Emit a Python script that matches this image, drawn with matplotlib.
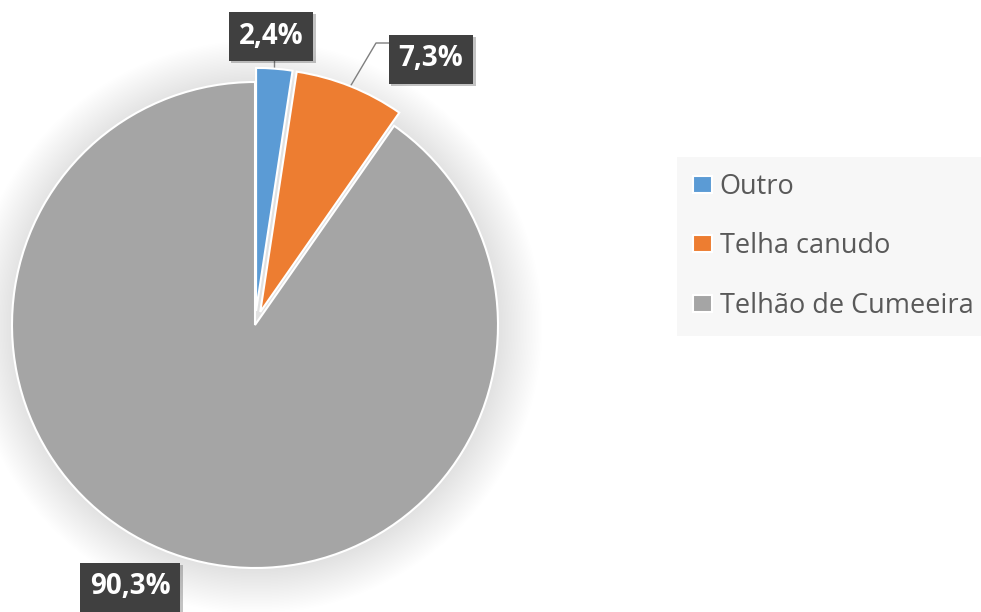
import numpy as np
import matplotlib
matplotlib.use("Agg")
import matplotlib.pyplot as plt
from matplotlib.patches import Circle
import matplotlib.patheffects as pe

plt.rcParams['font.family'] = ['Open Sans', 'DejaVu Sans']

categories = ["Outro", "Telha canudo", "Telhão de Cumeeira"]
values = [2.4, 7.3, 90.3]
colors = ["#5B9BD5", "#ED7D31", "#A5A5A5"]
explode = [0.058, 0.058, 0]

W, H = 981, 612
cx, cy, R = 255, 287, 243

fig = plt.figure(figsize=(W / 100, H / 100), dpi=100)
ax = fig.add_axes([0, 0, 1, 1])

# soft shadow around the pie
for i in range(30):
    ax.add_patch(Circle((cx + 1, cy - 2), R + 1.5 * i, facecolor="black",
                        edgecolor="none", alpha=0.0035, zorder=0))

wedges, _ = ax.pie(values, colors=colors, startangle=90, counterclock=False,
                   explode=[e * R for e in explode], center=(cx, cy), radius=R,
                   wedgeprops=dict(edgecolor="white", linewidth=1.5))
for w in wedges:
    w.set_zorder(2)

ax.set_xlim(0, W)
ax.set_ylim(0, H)
ax.set_aspect("equal")
ax.axis("off")

labels = [("%.1f" % v).replace(".", ",") + "%" for v in values]
label_pos = [(271, 576), (431, 553), (130, 25)]

box_kw = dict(boxstyle="square,pad=0.36", facecolor="#404040", edgecolor="none")
for i, (lab, (tx, ty)) in enumerate(zip(labels, label_pos)):
    t = ax.text(tx, ty, lab, ha="center", va="center", color="white",
                fontsize=20, fontweight="bold", bbox=box_kw, zorder=5)
    t.get_bbox_patch().set_path_effects(
        [pe.SimplePatchShadow(offset=(2, -2), alpha=0.25), pe.Normal()])

# leader lines from the wedge arc to the labels
theta1 = [w.theta1 for w in wedges]
theta2 = [w.theta2 for w in wedges]
def arc_point(i):
    mid = np.deg2rad((theta1[i] + theta2[i]) / 2)
    ox = cx + explode[i] * R * np.cos(mid)
    oy = cy + explode[i] * R * np.sin(mid)
    return ox + R * np.cos(mid), oy + R * np.sin(mid)

px, py = arc_point(0)
ax.plot([px, px], [py, 552], color="#7f7f7f", lw=1, zorder=1)
px, py = arc_point(1)
ax.plot([px, 376, 390], [py, 569, 569], color="#7f7f7f", lw=1, zorder=1)

fig.legend(wedges, categories, loc="upper left",
           bbox_to_anchor=(677 / W, 1 - 157 / H), borderaxespad=0, frameon=True,
           facecolor="#f7f7f7", edgecolor="none", fancybox=False, framealpha=1,
           prop=dict(family="Open Sans", size=19.5), labelcolor="#595959",
           handlelength=0.7, handleheight=0.6, handletextpad=0.3,
           labelspacing=1.17, borderpad=0.58)

fig.savefig("out.png", dpi=100)
